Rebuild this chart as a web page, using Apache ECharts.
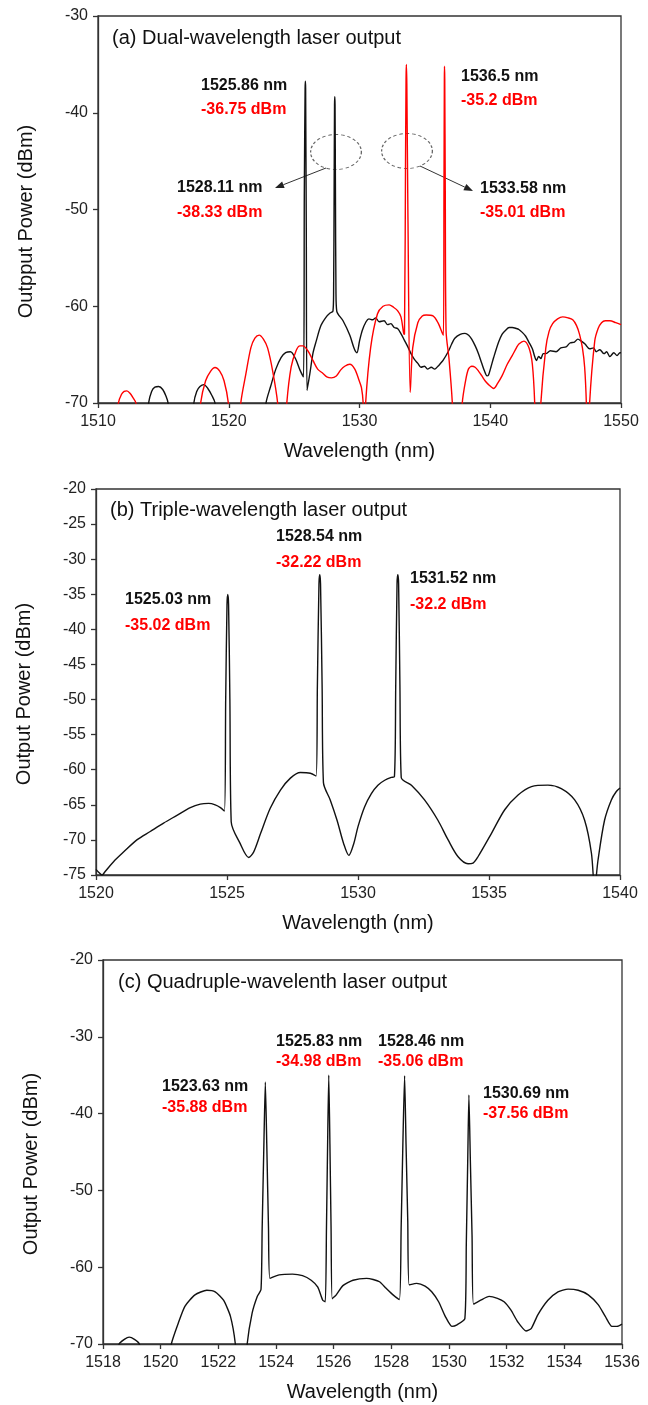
<!DOCTYPE html>
<html>
<head>
<meta charset="utf-8">
<script src="https://cdn.jsdelivr.net/npm/echarts@6/dist/echarts.min.js"></script>
<style>
html,body{margin:0;padding:0;background:#fff;}
#c{width:648px;height:1405px;}
</style>
</head>
<body>
<div id="c"></div>
<script>
// ---------------- DATA (wavelength nm, power dBm) ----------------
// (a) Dual-wavelength: black trace (1525.86 / 1528.11 nm) and red trace (1533.58 / 1536.5 nm)
const dualBlack = [
[1510,-80],[1513.7,-73],[1513.87,-70],[1514.1,-68.8],[1514.35,-68.35],[1514.64,-68.3],[1514.95,-68.6],[1515.2,-69.3],[1515.36,-70],[1515.5,-73],
[1517.2,-73],[1517.33,-70],[1517.55,-68.8],[1517.8,-68.3],[1518.1,-68.1],[1518.4,-68.5],[1518.7,-69.2],[1518.95,-70],[1519.1,-73],
[1522.7,-73],[1522.85,-70],[1523.2,-68.3],[1523.6,-66.5],[1524.0,-65.3],[1524.35,-64.8],[1524.72,-64.7],[1525.1,-65.4],[1525.45,-66.6],[1525.72,-67.3],
[1525.78,-48],[1525.84,-37.5],[1525.86,-36.75],[1525.88,-37.5],[1525.93,-52],[1525.99,-68.7],
[1526.2,-67.0],[1526.45,-64.8],[1526.69,-63.6],[1527.05,-62.0],[1527.46,-61.1],[1527.75,-60.7],[1527.97,-60.5],[1528.02,-58.5],
[1528.06,-48],[1528.09,-39.2],[1528.11,-38.33],[1528.13,-39.2],[1528.16,-48],[1528.2,-58.5],[1528.26,-60.5],
[1528.74,-61.5],[1529.26,-63.0],[1529.6,-64.4],[1529.8,-64.8],[1530.0,-63.6],[1530.21,-62.5],[1530.5,-61.6],[1530.72,-61.3],[1531.0,-61.4],[1531.24,-61.2],
[1531.5,-61.6],[1531.88,-61.5],[1532.15,-61.9],[1532.4,-61.8],[1532.65,-62.2],[1532.91,-62.3],[1533.2,-62.9],[1533.43,-63.5],[1533.7,-64.2],[1533.94,-64.9],
[1534.2,-65.5],[1534.46,-65.9],[1534.7,-66.3],[1534.97,-66.2],[1535.2,-66.5],[1535.49,-66.3],[1535.75,-66.5],[1536.0,-66.2],[1536.2,-65.9],[1536.39,-65.6],
[1536.78,-64.7],[1537.05,-63.9],[1537.29,-63.3],[1537.7,-62.9],[1538.07,-62.8],[1538.35,-63.0],[1538.58,-63.4],[1538.85,-64.1],[1539.1,-64.9],[1539.35,-65.9],
[1539.56,-66.7],[1539.75,-67.2],[1539.87,-67.1],[1540.05,-66.3],[1540.26,-65.3],[1540.64,-63.7],[1540.9,-62.9],[1541.16,-62.5],[1541.45,-62.2],[1541.68,-62.2],
[1542.0,-62.3],[1542.19,-62.4],[1542.45,-62.7],[1542.71,-63.1],[1542.95,-63.7],[1543.22,-64.4],[1543.4,-65.2],[1543.53,-65.6],[1543.7,-65.2],[1543.87,-65.4],
[1544.05,-64.9],[1544.25,-64.9],[1544.6,-64.6],[1545.03,-64.7],[1545.4,-64.3],[1545.8,-64.2],[1546.1,-63.8],[1546.44,-63.7],[1546.7,-63.4],[1546.96,-63.6],
[1547.25,-63.9],[1547.6,-64.4],[1547.9,-64.3],[1548.1,-64.7],[1548.38,-64.5],[1548.7,-64.9],[1548.9,-64.7],[1549.15,-65.2],[1549.45,-64.8],[1549.7,-65.1],[1549.92,-64.8],[1550,-64.8]
];
const dualRed = [
[1510,-80],[1511.45,-73],[1511.56,-70],[1511.8,-69.1],[1512.0,-68.8],[1512.21,-68.75],[1512.45,-69.0],[1512.7,-69.5],[1512.9,-70],[1513.0,-73],
[1517.7,-73],[1517.85,-70],[1518.23,-67.7],[1518.62,-66.7],[1518.95,-66.33],[1519.31,-66.7],[1519.64,-67.7],[1519.97,-70],[1520.1,-73],
[1520.8,-73],[1520.92,-70],[1521.31,-67.0],[1521.69,-64.3],[1522.0,-63.3],[1522.33,-62.98],[1522.65,-63.4],[1522.97,-64.3],[1523.36,-66.7],[1523.74,-70],[1523.85,-73],
[1524.35,-73],[1524.44,-70],[1524.77,-66.3],[1525.15,-64.6],[1525.45,-64.1],[1525.67,-64.1],[1526.05,-64.6],[1526.44,-65.6],[1526.8,-66.5],[1527.21,-66.95],
[1527.5,-67.3],[1527.85,-67.4],[1528.23,-67.2],[1528.55,-66.6],[1528.87,-66.2],[1529.26,-66.0],[1529.64,-66.5],[1529.95,-67.6],[1530.15,-68.4],[1530.28,-70],[1530.34,-74],
[1530.4,-74],[1530.47,-70],[1530.85,-64.3],[1531.37,-60.8],[1531.8,-60.0],[1532.27,-59.86],[1532.6,-60.1],[1532.91,-60.45],[1533.17,-61.1],[1533.38,-62.8],[1533.44,-62.9],
[1533.52,-45],[1533.56,-36.5],[1533.58,-35.01],[1533.62,-37],[1533.7,-50],[1533.88,-68.9],
[1534.07,-64.3],[1534.46,-61.7],[1534.8,-61.0],[1535.1,-60.9],[1535.62,-61.0],[1536.0,-61.7],[1536.31,-62.7],[1536.42,-63.0],
[1536.46,-48],[1536.49,-36.5],[1536.5,-35.2],[1536.52,-36.5],[1536.56,-48],[1536.62,-62.5],
[1536.85,-65.5],[1537.1,-70],[1537.2,-74],[1537.75,-74],[1537.86,-70],[1538.1,-67.8],[1538.33,-66.5],[1538.6,-66.2],[1538.84,-66.3],[1539.1,-66.7],[1539.36,-67.2],
[1539.6,-67.7],[1539.87,-68.1],[1540.26,-68.5],[1540.55,-68.0],[1540.9,-67.2],[1541.3,-66.0],[1541.68,-65.1],[1542.0,-64.3],[1542.19,-63.9],[1542.58,-63.6],[1542.96,-64.3],
[1543.22,-66.0],[1543.4,-70],[1543.45,-74],[1543.8,-74],[1543.87,-70],[1544.25,-64.3],[1544.5,-62.6],[1544.77,-61.8],[1545.15,-61.3],[1545.54,-61.1],[1545.95,-61.2],
[1546.31,-61.4],[1546.6,-62.0],[1546.83,-62.9],[1547.05,-64.3],[1547.22,-66.3],[1547.35,-70],[1547.4,-74],[1547.55,-74],[1547.6,-70],[1547.99,-63.6],[1548.25,-62.3],
[1548.51,-61.7],[1548.8,-61.5],[1549.15,-61.5],[1549.6,-61.7],[1550,-61.9]
];
// (b) Triple-wavelength trace
const tripleTrace = [
[1520.0,-74.2],[1520.1,-74.6],[1520.23,-75.0],[1520.35,-74.5],[1520.67,-73.1],[1521.06,-71.7],[1521.56,-70.0],[1522.07,-68.8],[1522.58,-67.6],[1523.09,-66.5],
[1523.6,-65.4],[1523.98,-64.9],[1524.3,-64.8],[1524.55,-65.0],[1524.75,-65.4],[1524.9,-65.9],
[1524.95,-50],[1525.0,-36.5],[1525.03,-35.02],[1525.06,-36.5],[1525.11,-50],[1525.16,-67.4],
[1525.5,-70.5],[1525.83,-72.5],[1526.02,-71.7],[1526.28,-69.1],[1526.65,-65.5],[1527.04,-62.9],[1527.42,-61.2],[1527.8,-60.4],[1528.18,-60.5],[1528.4,-60.9],
[1528.45,-48],[1528.51,-33.5],[1528.54,-32.22],[1528.57,-33.5],[1528.63,-48],[1528.68,-61.8],
[1528.94,-64.3],[1529.2,-67.2],[1529.45,-70.5],[1529.65,-72.2],[1529.84,-70.5],[1530.0,-68.1],[1530.25,-65.3],[1530.51,-63.4],[1530.76,-62.2],[1531.02,-61.5],
[1531.27,-61.1],[1531.39,-61.0],
[1531.44,-48],[1531.49,-33.5],[1531.52,-32.2],[1531.55,-33.5],[1531.6,-48],[1531.65,-61.1],
[1532.04,-62.2],[1532.54,-64.3],[1533.05,-67.2],[1533.44,-70.0],[1533.82,-72.4],[1534.2,-73.4],[1534.39,-73.3],[1534.58,-72.4],[1535.09,-69.1],[1535.6,-65.7],
[1536.11,-63.6],[1536.62,-62.4],[1537.25,-62.2],[1537.76,-62.7],[1538.27,-64.3],[1538.65,-67.2],[1538.91,-71.9],[1539.03,-77],[1539.16,-72.9],[1539.41,-67.2],
[1539.67,-64.3],[1539.86,-63.1],[1540,-62.6]
];
// (c) Quadruple-wavelength trace
const quadTrace = [
[1518,-80],[1518.45,-73],[1518.56,-70],[1518.74,-69.4],[1518.91,-69.1],[1519.09,-69.4],[1519.26,-70],[1519.35,-73],
[1520.28,-73],[1520.37,-70],[1520.61,-67.3],[1520.84,-65.1],[1521.19,-63.6],[1521.6,-63.0],[1521.89,-63.2],[1522.18,-64.3],[1522.42,-66.4],[1522.59,-70],[1522.65,-74],
[1522.95,-74],[1523.0,-70],[1523.17,-66.0],[1523.35,-63.8],[1523.48,-62.9],
[1523.52,-55],[1523.58,-44],[1523.63,-35.88],[1523.68,-44],[1523.74,-55],[1523.79,-61.45],
[1524.11,-61.0],[1524.57,-60.9],[1524.92,-61.1],[1525.22,-61.7],[1525.45,-62.6],[1525.62,-64.3],[1525.71,-64.5],
[1525.75,-55],[1525.79,-44],[1525.83,-34.98],[1525.87,-44],[1525.91,-55],[1525.95,-64.1],
[1526.09,-63.6],[1526.32,-62.4],[1526.67,-61.7],[1527.14,-61.45],[1527.37,-61.6],[1527.59,-61.9],[1527.82,-62.75],[1528.06,-63.6],[1528.28,-64.2],
[1528.34,-55],[1528.4,-44],[1528.46,-35.06],[1528.51,-44],[1528.57,-54],[1528.62,-62.3],
[1528.88,-62.1],[1529.17,-62.45],[1529.4,-63.2],[1529.64,-64.5],[1529.87,-66.4],[1530.1,-67.7],[1530.28,-67.5],[1530.55,-66.7],
[1530.6,-57],[1530.65,-46],[1530.69,-37.56],[1530.74,-46],[1530.8,-56],[1530.85,-64.8],
[1531.1,-64.3],[1531.39,-63.8],[1531.68,-64.05],[1531.91,-64.5],[1532.15,-65.6],[1532.38,-67.1],[1532.67,-68.3],[1532.85,-68.0],[1533.08,-66.2],[1533.43,-64.3],
[1533.78,-63.2],[1534.13,-62.85],[1534.48,-63.0],[1534.83,-63.6],[1535.18,-64.9],[1535.42,-66.4],[1535.65,-67.7],[1535.83,-67.7],[1536.0,-67.4]
];
// Peak annotation texts
const dualLabels = [["1525.86 nm","-36.75 dBm"],["1528.11 nm","-38.33 dBm"],["1536.5 nm","-35.2 dBm"],["1533.58 nm","-35.01 dBm"]];
const tripleLabels = [["1525.03 nm","-35.02 dBm"],["1528.54 nm","-32.22 dBm"],["1531.52 nm","-32.2 dBm"]];
const quadLabels = [["1523.63 nm","-35.88 dBm"],["1525.83 nm","-34.98 dBm"],["1528.46 nm","-35.06 dBm"],["1530.69 nm","-37.56 dBm"]];
const panelTitles = ["(a) Dual-wavelength laser output","(b) Triple-wavelength laser output","(c) Quadruple-wavelenth laser output"];
const yNames = ["Outpput Power (dBm)","Output Power (dBm)","Output Power (dBm)"];
const xName = "Wavelength (nm)";
// axis ranges [min,max,interval]
const xRanges = [[1510,1550,10],[1520,1540,5],[1518,1536,2]];
const yRanges = [[-70,-30,10],[-75,-20,5],[-70,-20,10]];

// ---------------- LAYOUT ----------------
const FONT = "'Liberation Sans', Arial, Helvetica, sans-serif";
const grids = [
  {left:98, right:27, top:16, height:387},
  {left:96, right:28, top:489, height:386},
  {left:103, right:26, top:960, height:384}
];
const titlePos = [[112,39],[110,511],[118,983]];
// label positions: [x(left), y(center) of first line, y of second line]
const dualLabelPos = [[201,86,110],[177,188,213],[461,77,101],[480,189,213]];
const tripleLabelPos = [[125,600,626],[276,537,563],[410,579,605]];
const quadLabelPos = [[162,1087,1108],[276,1042,1062],[378,1042,1062],[483,1094,1114]];

const AX = '#333';
function xAxis(i){
  return {type:'value', gridIndex:i, min:xRanges[i][0], max:xRanges[i][1], interval:xRanges[i][2],
    name:xName, nameLocation:'middle', nameGap:38,
    nameTextStyle:{fontFamily:FONT, fontSize:20, color:'#111'},
    axisLine:{show:true, onZero:false, lineStyle:{color:AX, width:1.3}},
    axisTick:{show:true, inside:false, length:5, lineStyle:{color:AX, width:1.3}},
    axisLabel:{fontFamily:FONT, fontSize:16, color:'#222', margin:11, formatter:v=>String(v)},
    splitLine:{show:false}};
}
function yAxis(i){
  return {type:'value', gridIndex:i, min:yRanges[i][0], max:yRanges[i][1], interval:yRanges[i][2],
    name:yNames[i], nameLocation:'middle', nameGap:62, nameRotate:90,
    nameTextStyle:{fontFamily:FONT, fontSize:20, color:'#111', padding:[0,24,0,0]},
    axisLine:{show:true, onZero:false, lineStyle:{color:AX, width:1.3}},
    axisTick:{show:true, inside:false, length:5, lineStyle:{color:AX, width:1.3}},
    axisLabel:{fontFamily:FONT, fontSize:16, color:'#222', margin:10, formatter:v=>String(v)},
    splitLine:{show:false}};
}
function lineSeries(data, xi, color, sm){
  return {type:'line', xAxisIndex:xi, yAxisIndex:xi, data:data, showSymbol:false, symbol:'none',
    smooth:sm, clip:true, lineStyle:{color:color, width:1.4}, animation:false, silent:true};
}
const graphic = [];
panelTitles.forEach((t,i)=>{
  graphic.push({type:'text', left:titlePos[i][0], top:titlePos[i][1]-11,
    style:{text:t, font:"20px "+FONT, fill:'#111'}});
});
function pushLabels(labels, pos){
  labels.forEach((l,i)=>{
    graphic.push({type:'text', x:pos[i][0], y:pos[i][1], style:{text:l[0], font:"bold 16px "+FONT, fill:'#111', textVerticalAlign:'middle'}});
    graphic.push({type:'text', x:pos[i][0], y:pos[i][2], style:{text:l[1], font:"bold 16px "+FONT, fill:'#ff0000', textVerticalAlign:'middle'}});
  });
}
pushLabels(dualLabels, dualLabelPos);
pushLabels(tripleLabels, tripleLabelPos);
pushLabels(quadLabels, quadLabelPos);
// dashed ellipses and arrows in panel (a)
[[336,152],[407,151]].forEach(c=>{
  graphic.push({type:'circle', shape:{cx:0, cy:0, r:17.5}, x:c[0], y:c[1], scaleX:1.45, scaleY:1,
    style:{fill:'none', stroke:'#666', lineWidth:0.9, lineDash:[2.5,2]}});
});
function arrow(x1,y1,x2,y2){
  const a = Math.atan2(y2-y1, x2-x1), L = 9, W = 3.5;
  const bx = x2 - L*Math.cos(a), by = y2 - L*Math.sin(a);
  graphic.push({type:'line', shape:{x1:x1,y1:y1,x2:bx,y2:by}, style:{stroke:'#333', lineWidth:1}});
  graphic.push({type:'polygon', shape:{points:[[x2,y2],[bx - W*Math.sin(a), by + W*Math.cos(a)],[bx + W*Math.sin(a), by - W*Math.cos(a)]]}, style:{fill:'#222'}});
}
arrow(326,168,275,188);
arrow(420,166,473,191);

const chart = echarts.init(document.getElementById('c'), null, {renderer:'canvas'});
chart.setOption({
  animation:false,
  backgroundColor:'#fff',
  grid: grids.map(g=>Object.assign({show:true, borderColor:AX, borderWidth:1.3, backgroundColor:'transparent'}, g)),
  xAxis:[xAxis(0),xAxis(1),xAxis(2)],
  yAxis:[yAxis(0),yAxis(1),yAxis(2)],
  series:[
    lineSeries(dualBlack,0,'#111',0.3),
    lineSeries(dualRed,0,'#ff0000',0.3),
    lineSeries(tripleTrace,1,'#111',0.3),
    lineSeries(quadTrace,2,'#111',0.2)
  ],
  graphic: graphic
});
</script>
</body>
</html>
